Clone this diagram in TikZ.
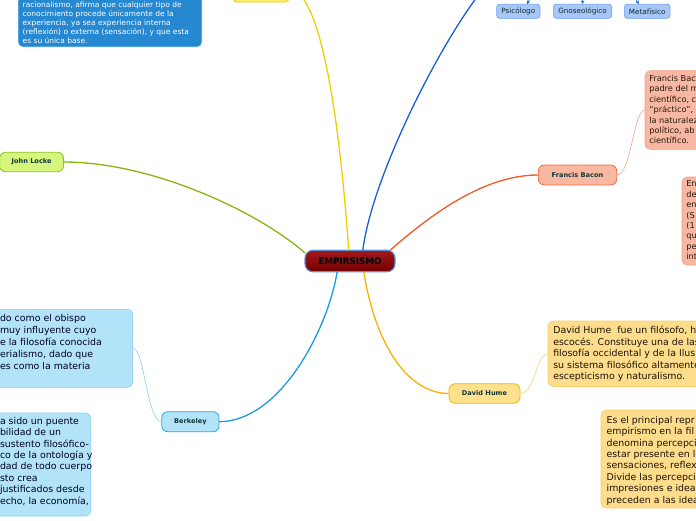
\documentclass[tikz,border=0pt]{standalone}
\usepackage{fontspec}
\setmainfont{DejaVu Sans}
\usetikzlibrary{arrows.meta}
\definecolor{cYel}{HTML}{EDD000}
\definecolor{cBlue}{HTML}{1A5FD0}
\definecolor{cRed}{HTML}{F0582A}
\definecolor{cGreen}{HTML}{88B414}
\definecolor{cCyan}{HTML}{1A9BE0}
\definecolor{cOra}{HTML}{F5B301}
\definecolor{topFill}{HTML}{2588D0}
\definecolor{topLine}{HTML}{4A9EDC}
\definecolor{yelFill}{HTML}{FFF170}
\definecolor{yelLine}{HTML}{E8C900}
\definecolor{subFill}{HTML}{A7C7F7}
\definecolor{subLine}{HTML}{6B9DEC}
\definecolor{fbFill}{HTML}{F9B8A2}
\definecolor{fbLine}{HTML}{F06A46}
\definecolor{fbNote}{HTML}{F8B7A2}
\definecolor{fbNoteLine}{HTML}{F3A08A}
\definecolor{jlFill}{HTML}{D6F57C}
\definecolor{jlLine}{HTML}{8DC21F}
\definecolor{bkFill}{HTML}{B3E3F8}
\definecolor{bkLine}{HTML}{29A9E1}
\definecolor{bkNoteLine}{HTML}{86D0F2}
\definecolor{dhFill}{HTML}{FFE08D}
\definecolor{dhLine}{HTML}{F3B600}
\definecolor{dhNote}{HTML}{FDDC8B}
\definecolor{dhNoteLine}{HTML}{F8CF6E}
\definecolor{nodeText}{HTML}{12373A}
\definecolor{cenBorder}{HTML}{5B8FD6}
\begin{document}
\begin{tikzpicture}[x=1pt,y=-1pt,
  every node/.style={inner sep=0pt,outer sep=0pt},
  topic/.style={draw,rounded corners=6pt,line width=0.8pt,text=nodeText,
    font=\fontsize{6.6}{8}\selectfont\bfseries},
  subtopic/.style={draw=subLine,fill=subFill,rounded corners=3pt,line width=0.6pt,
    minimum height=14.3,text=nodeText!80!black,font=\fontsize{7.2}{8}\selectfont},
  notebox/.style={draw,rounded corners=5pt,line width=0.6pt},
  notetext/.style={anchor=north west,align=left},
  bigtext/.style={font=\fontsize{9.4}{11.5}\selectfont},
  smalltext/.style={font=\fontsize{8.2}{10.45}\selectfont,text=black!80!brown},
  mainline/.style={line width=1.3pt},
  thinline/.style={line width=0.6pt},
  subarrow/.style={cBlue,line width=0.6pt,-{Stealth[length=3.5pt,width=3.5pt]}}]
\useasboundingbox (0,0) rectangle (696,520);
\clip (0,0) rectangle (696,520);

% ---------- nodes ----------
\node[draw=cenBorder,line width=1.1pt,rounded corners=8pt,
  top color=red!60!black!90, bottom color=red!45!black,
  minimum width=90,minimum height=21.5,
  font=\fontsize{8.8}{10}\selectfont\bfseries,text=black] (c) at (350,261) {EMPIRSISMO};

\node[topic,draw=yelLine,fill=yelFill,minimum width=58,minimum height=24] (yl) at (261,-10) {};
\node[topic,draw=cBlue,fill=subFill,minimum width=180,minimum height=20] (tp) at (583,-22) {};

\node[topic,draw=fbLine,fill=fbFill,minimum width=78.4,minimum height=20] (fb) at (577.5,175) {Francis Bacon};
\node[topic,draw=jlLine,fill=jlFill,minimum width=64,minimum height=19.4] (jl) at (31.6,162) {John Locke};
\node[topic,draw=bkLine,fill=bkFill,minimum width=57.3,minimum height=20] (bk) at (190.4,421.7) {Berkeley};
\node[topic,draw=dhLine,fill=dhFill,minimum width=71,minimum height=19.5] (dh) at (484.5,393.5) {David Hume};

\node[subtopic,minimum width=43.3] (ps) at (518.3,11.2) {Psicólogo};
\node[subtopic,minimum width=58.4] (gn) at (582.5,11.2) {Gnoseológico};
\node[subtopic,minimum width=45.7] (mf) at (647.2,11.2) {Metafísico};

% note boxes
\node[notebox,draw=topLine,fill=topFill,anchor=south west,minimum width=183.4,minimum height=62] (tb) at (18.3,46.7) {};
\node[notetext,font=\fontsize{7.5}{9.1}\selectfont,text=white] (tbt) at (22.7,1.3) {racionalismo, afirma que cualquier tipo de\\
conocimiento procede únicamente de la\\
experiencia, ya sea experiencia interna\\
(reflexión) o externa (sensación), y que esta\\
es su única base.};

\node[notebox,draw=fbNoteLine,fill=fbNote,anchor=north west,minimum width=90,minimum height=78.6] (s1) at (645,70.7) {};
\node[notetext,smalltext] (s1t) at (649.3,75) {Francis Bac\\
padre del m\\
científico, c\\
“práctico”,\\
la naturalez\\
político, ab\\
científico.};

\node[notebox,draw=fbNoteLine,fill=fbNote,anchor=north west,minimum width=60,minimum height=88] (s2) at (682,177) {};
\node[notetext,smalltext] (s2t) at (686.3,180.7) {En\\ de\\ en\\ (S\\ (1\\ qu\\ pe\\ int};

\node[notebox,draw=bkNoteLine,fill=bkFill,anchor=north east,minimum width=160,minimum height=78] (b1) at (132.7,309.3) {};
\node[notetext,text=black!85!blue,font=\fontsize{9.4}{11.9}\selectfont] (b1t) at (0,314.5) {do como el obispo\\
muy influyente cuyo\\
e la filosofía conocida\\
erialismo, dado que\\
es como la materia};

\node[notebox,draw=bkNoteLine,fill=bkFill,anchor=north east,minimum width=160,minimum height=103] (b2) at (90.7,413) {};
\node[notetext,text=black!85!blue,font=\fontsize{9.4}{11.4}\selectfont] (b2t) at (0,417.2) {a sido un puente\\
bilidad de un\\
sustento filosófico-\\
co de la ontología y\\
dad de todo cuerpo\\
sto crea\\
justificados desde\\
echo, la economía,};

\node[notebox,draw=dhNoteLine,fill=dhNote,anchor=north west,minimum width=220,minimum height=65.5] (h1) at (548,321) {};
\node[notetext,bigtext,text=black!85!brown] (h1t) at (553.3,326.2) {David Hume\ \ fue un filósofo, h\\
escocés. Constituye una de las\\
filosofía occidental y de la Ilus\\
su sistema filosófico altamente\\
escepticismo y naturalismo.};

\node[notebox,draw=dhNoteLine,fill=dhNote,anchor=north west,minimum width=140,minimum height=98] (h2) at (601,410) {};
\node[notetext,text=black!85!brown,font=\fontsize{9.4}{11.4}\selectfont] (h2t) at (606.7,416.2) {Es el principal repr\\
empirismo en la fil\\
denomina percepci\\
estar presente en l\\
sensaciones, reflex\\
Divide las percepci\\
impresiones e idea\\
preceden a las idea};

% ---------- main connectors ----------
\draw[mainline,cYel] (c.97) .. controls +(-12,-170) and +(25,0) .. (yl.east);
\draw[mainline,cBlue] (c.40) .. controls +(10,-80) and +(-40,40) .. (tp.west);
\draw[mainline,cRed] (c.15) .. controls +(40,-35) and +(-55,0) .. (fb.west);
\draw[mainline,cGreen] (c.170) .. controls +(-45,-40) and +(90,0) .. (jl.east);
\draw[mainline,cCyan] (c.220) .. controls +(-10,60) and +(60,0) .. (bk.east);
\draw[mainline,cOra] (c.-38) .. controls +(10,65) and +(-45,0) .. (dh.west);

% ---------- sub connectors ----------
\draw[subarrow] (tp.south) to[out=-150,in=60] (ps.40);
\draw[subarrow] (tp.south) -- (gn.north);
\draw[subarrow] (tp.south) to[out=-30,in=120] (mf.140);

\draw[thinline,fbNoteLine] (fb.east) .. controls +(15,0) and +(-12,0) .. (s1.west);
\draw[thinline,bkNoteLine] (bk.west) .. controls +(-15,0) and +(12,0) .. (b1.east);
\draw[thinline,dhNoteLine] (dh.east) .. controls +(15,0) and +(-12,0) .. (h1.west);
\end{tikzpicture}
\end{document}
